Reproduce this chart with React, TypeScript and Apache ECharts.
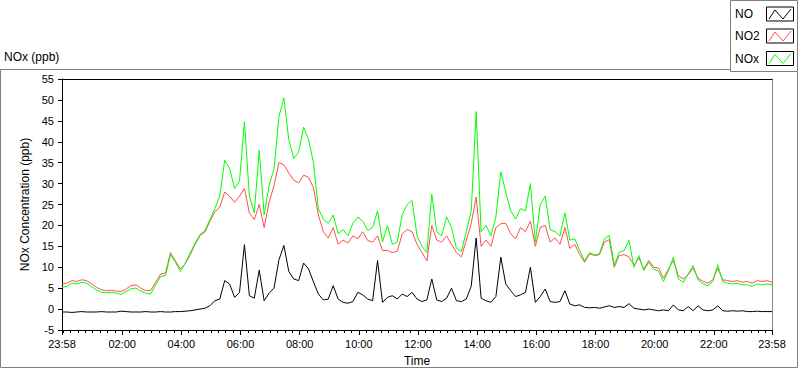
import React, { useEffect, useRef } from "react";
import * as echarts from "echarts";

// minutes since midnight of each sample: start at 23:58 (-2), one sample every 10 min
const START_MIN = -2;
const STEP_MIN = 10;

const NO = [
  -0.7, -0.7, -0.8, -0.7, -0.6, -0.7, -0.7, -0.7, -0.6, -0.7, -0.7, -0.7, -0.5, -0.6, -0.7, -0.7, -0.7, -0.6, -0.7, -0.7, -0.6,
  -0.7, -0.7, -0.6, -0.6, -0.5, -0.4, -0.2, 0.0, 0.2, 0.8,
  2.0, 2.4, 6.8, 6.0, 2.8, 4.0, 15.4, 3.2, 2.6, 9.3,
  2.0, 3.8, 5.0, 11.8, 15.2, 9.0, 7.2, 6.8, 11.0, 9.6,
  6.5, 3.6, 2.2, 2.4, 5.6, 2.4, 1.6, 1.4, 1.8, 4.0,
  3.4, 2.4, 2.0, 11.6, 1.6, 2.8, 3.2, 2.4, 3.6, 3.0,
  4.0, 2.4, 1.8, 2.2, 7.2, 2.2, 1.8, 2.6, 5.0, 2.0,
  1.8, 2.4, 5.5, 17.0, 2.6, 2.0, 1.6, 3.0, 12.4, 6.0,
  4.4, 3.0, 3.4, 4.0, 10.0, 1.6, 3.0, 4.8, 1.8, 1.6,
  1.8, 4.4, 1.2, 0.8, 1.0, 0.4, 0.3, 0.4, 0.2, 0.5,
  0.8, 0.4, 0.6, 0.4, 1.3, 0.2, 0.0, -0.2, 0.0, -0.2,
  -0.4, -0.2, -0.4, 1.0, -0.2, -0.4, 0.6, -0.4, 0.8, -0.2,
  -0.4, -0.2, 0.8, -0.4, -0.5, -0.4, -0.5, -0.4, -0.6, -0.6,
  -0.5, -0.6, -0.6, -0.6,
];

const NO2 = [
  6.0, 6.2, 6.8, 6.6, 7.0, 6.8, 6.0, 5.2, 4.6, 4.4, 4.5, 4.3, 4.2, 4.8, 5.6, 5.8, 5.0, 4.4, 4.5, 6.4, 8.4,
  8.6, 13.5, 11.5, 9.6, 10.8, 13.0, 15.5, 17.6, 18.4, 21.0,
  23.2, 24.4, 28.0, 27.0, 25.5, 27.0, 28.8, 23.0, 21.4, 25.0,
  19.5, 25.5, 29.5, 35.0, 34.5, 32.5, 30.8, 30.2, 32.0, 31.5,
  29.0, 22.5, 18.5, 17.0, 19.5, 15.5, 16.5, 15.8, 17.5, 16.8,
  18.5, 16.4, 16.0, 17.5, 14.0, 14.0, 13.5, 13.8, 18.0, 19.0,
  18.5, 15.5, 13.5, 11.5, 20.0, 16.5, 16.0, 17.5, 15.5, 13.5,
  12.5, 16.5, 20.5, 26.8, 15.0, 16.5, 15.0, 19.5, 20.4, 20.5,
  18.0, 16.8, 19.5, 18.5, 21.0, 15.0, 19.5, 20.0, 16.0, 17.0,
  15.5, 19.5, 14.5, 15.5, 13.0, 11.2, 13.2, 12.8, 13.0, 16.0,
  16.6, 10.0, 12.8, 13.0, 12.5, 10.5, 12.2, 9.6, 11.6, 10.0,
  9.8, 7.4, 9.6, 11.6, 8.0, 7.2, 8.2, 9.8, 7.4, 6.6,
  6.2, 7.0, 9.8, 7.0, 6.8, 6.6, 6.8, 6.4, 6.6, 6.2,
  6.8, 6.6, 6.8, 6.4,
];

const NOX = [
  5.2, 5.4, 6.2, 6.0, 6.4, 6.2, 5.3, 4.6, 4.0, 3.9, 4.0, 3.8, 3.5, 4.2, 4.9, 5.0, 4.3, 3.8, 3.6, 5.8, 7.8,
  8.0, 13.0, 11.2, 9.0, 11.0, 13.4, 15.8, 17.8, 18.8, 21.4,
  24.0, 27.0, 35.6, 33.6, 28.8, 30.6, 44.8, 27.0, 23.0, 38.0,
  22.5, 29.5, 33.5, 46.0, 50.5, 40.5, 36.0, 37.5, 43.5, 40.5,
  35.0, 24.0, 21.5, 20.5, 22.5, 18.0, 19.0, 17.5, 20.5, 22.0,
  21.0, 18.8, 19.5, 23.5, 16.0, 20.0, 15.5, 16.0, 22.5, 25.0,
  26.0, 17.5, 15.0, 13.5, 27.5, 18.5, 17.5, 22.0, 19.5, 14.5,
  13.8, 18.5, 23.5, 47.2, 18.5, 20.0, 17.5, 22.0, 32.8, 28.0,
  23.5, 21.5, 24.0, 23.5, 30.0, 16.0, 25.0, 27.0, 19.0, 18.5,
  17.5, 23.0, 16.5, 16.8, 14.0, 11.5, 13.5, 13.0, 13.2, 16.8,
  17.6, 10.5, 13.6, 14.0, 16.4, 10.0, 12.8, 9.2, 11.2, 9.6,
  9.0, 6.6, 9.2, 12.4, 7.2, 6.4, 8.4, 10.4, 7.0, 6.0,
  5.6, 6.6, 10.6, 6.6, 6.2, 6.0, 6.2, 5.8, 5.8, 5.4,
  6.0, 5.8, 6.0, 5.8,
];

const X_MIN = -2;
const X_MAX = 1438;
const MAJOR_TICKS = [-2, 120, 240, 360, 480, 600, 720, 840, 960, 1080, 1200, 1320, 1438];
const MINOR_STEP = 15;

const SERIES_NAMES = ["NO", "NO2", "NOx"];
const SERIES_COLORS = ["#000000", "#ff4d4d", "#00ff00"];

const FONT = "Liberation Sans";

function fmtTime(v: number): string {
  const m = ((Math.round(v) % 1440) + 1440) % 1440;
  const h = Math.floor(m / 60);
  const mm = m % 60;
  return String(h).padStart(2, "0") + ":" + String(mm).padStart(2, "0");
}

function toPairs(values: number[]) {
  return values.map((v, i) => [START_MIN + i * STEP_MIN, v]);
}

export default function App() {
  const ref = useRef<HTMLDivElement>(null);

  useEffect(() => {
    if (!ref.current) return;
    const chart = echarts.init(ref.current, undefined, { renderer: "svg" });

    const minorTicks: number[] = [];
    for (let m = 0; m <= X_MAX; m += MINOR_STEP) {
      if (!MAJOR_TICKS.includes(m)) minorTicks.push(m);
    }

    const legendRows = [14, 36, 58.5];
    const legendGraphics: any[] = [];
    SERIES_NAMES.forEach((name, k) => {
      const cy = legendRows[k];
      legendGraphics.push({
        type: "text",
        x: 735,
        y: cy,
        style: { text: name, fill: "#000", font: `12px "${FONT}"`, verticalAlign: "middle", align: "left" },
        z: 10,
      });
      legendGraphics.push({
        type: "rect",
        shape: { x: 766.5, y: cy - 7, width: 27, height: 14 },
        style: { fill: "#fff", stroke: "#000", lineWidth: 1 },
        z: 10,
      });
      legendGraphics.push({
        type: "polyline",
        shape: { points: [[769, cy + 5], [775, cy - 4], [783, cy + 5], [791, cy - 5]] },
        style: { stroke: SERIES_COLORS[k], lineWidth: 1, fill: "none" },
        z: 11,
      });
    });

    const option: any = {
      animation: false,
      backgroundColor: "#ffffff",
      textStyle: { fontFamily: FONT },
      grid: { left: 62, right: 28, top: 79, bottom: 39, containLabel: false, outerBoundsMode: "none" },
      xAxis: [
        {
          type: "value",
          position: "bottom",
          min: X_MIN,
          max: X_MAX,
          name: "Time",
          nameLocation: "middle",
          nameGap: 25,
          nameTextStyle: { fontSize: 12, color: "#000", fontFamily: FONT },
          axisLine: { show: true, onZero: false, lineStyle: { color: "#000", width: 1 } },
          axisTick: { show: true, customValues: MAJOR_TICKS, length: 5, inside: false, lineStyle: { color: "#000" } },
          axisLabel: {
            customValues: MAJOR_TICKS,
            formatter: (v: number) => fmtTime(v),
            fontSize: 11,
            color: "#000",
            margin: 8,
            fontFamily: FONT,
          },
          splitLine: { show: false },
        },
        {
          type: "value",
          position: "bottom",
          min: X_MIN,
          max: X_MAX,
          axisLine: { show: false, onZero: false },
          axisTick: { show: true, customValues: minorTicks, length: 3, inside: false, lineStyle: { color: "#000" } },
          axisLabel: { show: false },
          splitLine: { show: false },
        },
        {
          type: "value",
          position: "top",
          min: X_MIN,
          max: X_MAX,
          axisLine: { show: true, onZero: false, lineStyle: { color: "#000", width: 1 } },
          axisTick: { show: false },
          axisLabel: { show: false },
          splitLine: { show: false },
        },
      ],
      yAxis: [
        {
          type: "value",
          position: "left",
          min: -5,
          max: 55,
          interval: 5,
          name: "NOx Concentration (ppb)",
          nameLocation: "middle",
          nameGap: 25,
          nameTextStyle: { fontSize: 12, color: "#000", fontFamily: FONT },
          axisLine: { show: true, onZero: false, lineStyle: { color: "#000", width: 1 } },
          axisTick: { show: true, length: 4, inside: false, lineStyle: { color: "#000" } },
          axisLabel: { fontSize: 11, color: "#000", margin: 8, fontFamily: FONT },
          splitLine: { show: false },
        },
        {
          type: "value",
          position: "right",
          min: -5,
          max: 55,
          interval: 5,
          axisLine: { show: true, onZero: false, lineStyle: { color: "#8a8a8a", width: 1 } },
          axisTick: { show: false },
          axisLabel: { show: false },
          splitLine: { show: false },
        },
      ],
      series: [
        { name: "NO", data: toPairs(NO), color: SERIES_COLORS[0] },
        { name: "NO2", data: toPairs(NO2), color: SERIES_COLORS[1] },
        { name: "NOx", data: toPairs(NOX), color: SERIES_COLORS[2] },
      ].map((s, k) => ({
        type: "line",
        name: s.name,
        data: s.data,
        xAxisIndex: 0,
        yAxisIndex: 0,
        showSymbol: false,
        symbol: "none",
        lineStyle: { color: s.color, width: 1 },
        itemStyle: { color: s.color },
        z: 2 + k,
      })),
      graphic: [
        {
          type: "text",
          x: 4,
          y: 57,
          style: { text: "NOx (ppb)", fill: "#000", font: `12px "${FONT}"`, verticalAlign: "middle", align: "left" },
        },
        {
          type: "polyline",
          shape: { points: [[730, 69.5], [0.5, 69.5], [0.5, 367.5], [797.5, 367.5], [797.5, 71.5]] },
          style: { stroke: "#808080", lineWidth: 1, fill: "none" },
        },
        {
          type: "rect",
          shape: { x: 730.5, y: 0.5, width: 67, height: 71 },
          style: { fill: "#fff", stroke: "#808080", lineWidth: 1 },
          z: 9,
        },
        ...legendGraphics,
      ],
    };

    chart.setOption(option);
    return () => chart.dispose();
  }, []);

  return (
    <div
      ref={ref}
      style={{ position: "absolute", left: 0, top: 0, width: 800, height: 369, background: "#fff" }}
    />
  );
}
